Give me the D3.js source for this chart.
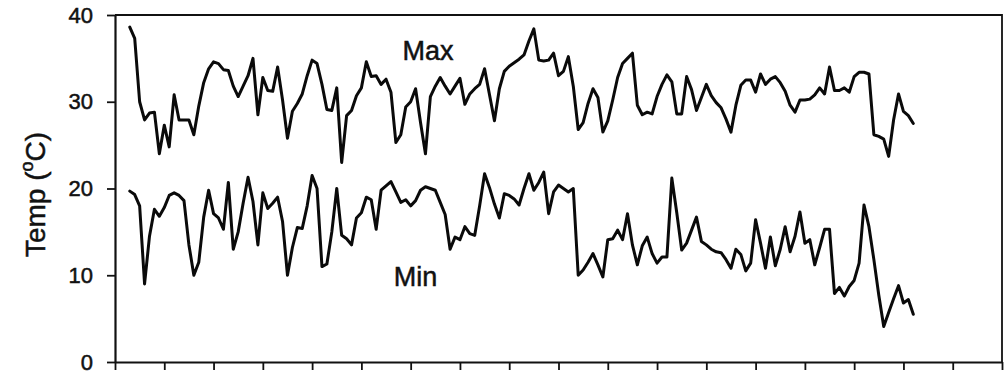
<!DOCTYPE html>
<html>
<head>
<meta charset="utf-8">
<script src="https://cdn.jsdelivr.net/npm/d3@7"></script>
<style>
  html, body { margin: 0; padding: 0; background: #fff; }
  svg { display: block; }
  text { font-family: "Liberation Sans", Arial, sans-serif; fill: #111; stroke: #111; stroke-width: 0.5px; }
</style>
</head>
<body>
<svg id="chart" width="1004" height="374"></svg>
<script>
// Daily air temperature, days 3..162 of the season
const firstDay = 3;

const maxTemp = [
  38.6, 37.3, 30.0, 27.9, 28.7, 28.8, 24.0, 27.3, 24.8, 30.8,
  27.9, 27.9, 27.9, 26.2, 29.5, 32.2, 33.8, 34.6, 34.4, 33.7,
  33.6, 31.8, 30.6, 31.8, 33.0, 35.0, 28.5, 32.8, 31.3, 31.2,
  34.0, 30.2, 25.8, 28.9, 29.8, 30.9, 33.0, 34.8, 34.4, 32.0,
  29.1, 29.0, 31.6, 23.0, 28.4, 29.0, 30.7, 31.6, 34.6, 32.9,
  33.0, 32.0, 32.6, 31.1, 25.3, 26.2, 29.4, 30.0, 31.5, 27.6,
  24.0, 30.6, 31.8, 32.8, 31.8, 30.9, 31.8, 32.7, 29.7, 30.9,
  31.5, 32.0, 33.8, 30.8, 27.8, 31.5, 33.5, 34.1, 34.5, 34.9,
  35.4, 37.0, 38.4, 34.8, 34.7, 34.8, 35.6, 33.0, 33.5, 35.2,
  31.8, 26.8, 27.6, 29.8, 31.5, 30.5, 26.5, 27.8, 30.2, 32.8,
  34.4, 35.0, 35.6, 29.6, 28.5, 28.8, 28.6, 30.6, 32.0, 33.1,
  32.3, 28.6, 28.6, 32.9, 31.4, 29.0, 30.5, 32.0, 30.7, 29.9,
  29.3, 28.0, 26.5, 29.6, 31.9, 32.5, 32.5, 31.1, 33.2, 32.0,
  32.6, 32.9, 32.2, 31.2, 29.6, 28.8, 30.2, 30.2, 30.3, 30.8,
  31.6, 30.9, 34.0, 31.3, 31.3, 31.6, 31.1, 32.9, 33.4, 33.4,
  33.2, 26.2, 26.0, 25.7, 23.7, 27.9, 30.9, 28.9, 28.4, 27.5
];

const minTemp = [
  19.7, 19.3, 18.0, 9.0, 14.5, 17.6, 16.8, 17.8, 19.2, 19.5,
  19.2, 18.6, 13.5, 10.0, 11.5, 16.7, 19.8, 17.1, 16.6, 15.3,
  20.7, 13.0, 15.0, 18.3, 21.3, 18.5, 13.5, 19.5, 17.7, 18.3,
  19.0, 16.2, 10.0, 13.2, 15.5, 15.4, 18.0, 21.5, 20.0, 11.0,
  11.3, 15.0, 20.0, 14.6, 14.2, 13.5, 16.6, 17.2, 19.0, 18.7,
  15.3, 19.8, 20.3, 20.8, 19.6, 18.4, 18.7, 18.0, 18.6, 19.8,
  20.2, 20.0, 19.8, 18.4, 17.0, 13.0, 14.4, 14.1, 15.6, 14.8,
  14.6, 18.0, 21.7, 20.1, 18.2, 16.6, 19.4, 19.2, 18.8, 18.1,
  20.0, 21.7, 19.8, 20.7, 21.9, 17.1, 19.6, 20.4, 20.0, 19.6,
  20.0, 10.0, 10.6, 11.5, 12.5, 11.2, 9.8, 14.1, 14.2, 15.2,
  14.1, 17.1, 13.5, 11.2, 13.4, 14.4, 12.5, 11.4, 12.1, 12.1,
  21.2, 17.2, 12.9, 13.7, 15.2, 16.7, 13.9, 13.5, 13.0, 12.7,
  12.6, 11.8, 10.8, 13.0, 12.4, 10.5, 11.4, 16.4, 13.7, 10.8,
  14.4, 11.1, 13.0, 15.6, 12.7, 14.5, 17.3, 13.7, 14.1, 11.2,
  13.2, 15.3, 15.3, 7.9, 8.6, 7.6, 8.7, 9.4, 11.4, 18.1,
  15.6, 11.8, 7.7, 4.1, 5.7, 7.3, 8.8, 6.8, 7.2, 5.5
];

const yTicks = [0, 10, 20, 30, 40];
const xTicks = d3.range(0, 181, 10);
const seriesLabels = [
  { text: "Max", day: 63.5, temp: 34.8 },
  { text: "Min", day: 61.0, temp: 8.8 }
];

const days = maxTemp.map((_, i) => firstDay + i);

const margin = { left: 115, right: 2, top: 15, bottom: 12 };
const W = 1004, H = 374;
const svg = d3.select("#chart");

const x = d3.scaleLinear().domain([0, 180]).range([margin.left, W - margin.right]);
const y = d3.scaleLinear().domain([0, 40]).range([H - margin.bottom, margin.top]);

// frame (top and right edges)
svg.append("path")
  .attr("d", `M${x(0)},${y(40)}H${x(180)}V${y(0)}`)
  .attr("fill", "none").attr("stroke", "#111").attr("stroke-width", 1.8);

// y axis
const yAxis = svg.append("g")
  .attr("transform", `translate(${x(0)},0)`)
  .call(d3.axisLeft(y).tickValues(yTicks).tickSize(8).tickPadding(14).tickSizeOuter(0));
yAxis.select(".domain").attr("stroke", "#111").attr("stroke-width", 2.2);
yAxis.selectAll(".tick line").attr("stroke", "#111").attr("stroke-width", 1.8);
yAxis.selectAll(".tick text").attr("font-size", 22).attr("fill", "#111")
  .style("font-family", "'Liberation Sans', Arial, sans-serif");

// x axis (ticks only, no labels)
const xAxis = svg.append("g")
  .attr("transform", `translate(0,${y(0)})`)
  .call(d3.axisBottom(x).tickValues(xTicks).tickSize(8).tickFormat("").tickSizeOuter(0));
xAxis.select(".domain").attr("stroke", "#111").attr("stroke-width", 2.2);
xAxis.selectAll(".tick line").attr("stroke", "#111").attr("stroke-width", 1.8);

// y axis title
const title = svg.append("text")
  .attr("transform", `translate(45,${(y(0) + y(40)) / 2 + 6}) rotate(-90)`)
  .attr("text-anchor", "middle")
  .attr("font-size", 28);
title.append("tspan").text("Temp (");
title.append("tspan").attr("font-size", 18).attr("dy", -12).text("o");
title.append("tspan").attr("dy", 12).text("C)");

// series lines
const line = d3.line()
  .x((d, i) => x(days[i]))
  .y(d => y(d));

[maxTemp, minTemp].forEach(series => {
  svg.append("path")
    .datum(series)
    .attr("d", line)
    .attr("fill", "none")
    .attr("stroke", "#0a0a0a")
    .attr("stroke-width", 3)
    .attr("stroke-linejoin", "round")
    .attr("stroke-linecap", "round");
});

// series labels
svg.selectAll(".series-label")
  .data(seriesLabels)
  .enter().append("text")
  .attr("class", "series-label")
  .attr("x", d => x(d.day))
  .attr("y", d => y(d.temp))
  .attr("text-anchor", "middle")
  .attr("font-size", 27)
  .text(d => d.text);
</script>
</body>
</html>
